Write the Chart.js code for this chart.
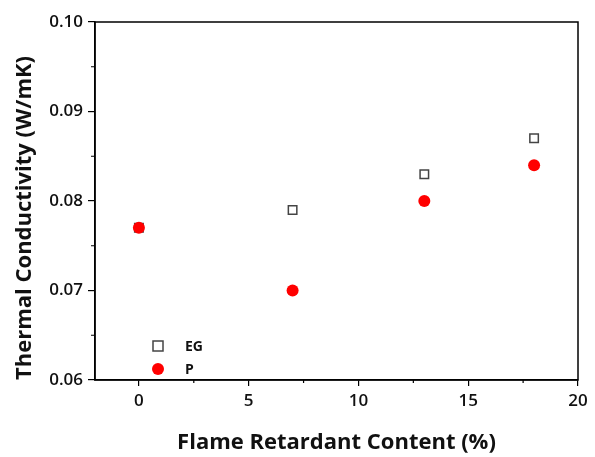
<!DOCTYPE html>
<html>
<head>
<meta charset="utf-8">
<script src="https://cdn.jsdelivr.net/npm/chart.js@4/dist/chart.umd.min.js"></script>
<style>
  html, body { margin: 0; padding: 0; background: #fff; }
  #wrap { width: 595px; height: 457px; }
</style>
</head>
<body>
<div id="wrap"><canvas id="chart" width="595" height="457"></canvas></div>
<script>
// data
const contentPct = [0, 7, 13, 18];
const egValues = [0.077, 0.079, 0.083, 0.087];
const pValues = [0.077, 0.070, 0.080, 0.084];
const seriesNames = ['EG', 'P'];
const xTicks = [0, 5, 10, 15, 20];
const yTicks = [0.06, 0.07, 0.08, 0.09, 0.10];
const xMinor = [2.5, 7.5, 12.5, 17.5];
const yMinor = [0.065, 0.075, 0.085, 0.095];

const FONT = "'Open Sans', 'Noto Sans', sans-serif";

function toPoints(xs, ys) {
    return xs.map((x, i) => ({ x: x, y: ys[i] }));
}

// box around the plot, minor ticks and the inside legend
const framePlugin = {
    id: 'frame',
    afterDraw(chart) {
        const ctx = chart.ctx;
        const a = chart.chartArea;
        const xs = chart.scales.x, ys = chart.scales.y;
        ctx.save();
        ctx.strokeStyle = '#000';
        ctx.lineWidth = 1.5;
        ctx.strokeRect(a.left, a.top, a.right - a.left, a.bottom - a.top);

        // minor ticks
        ctx.lineWidth = 1.2;
        ctx.beginPath();
        xMinor.forEach(v => {
            const px = xs.getPixelForValue(v);
            ctx.moveTo(px, a.bottom);
            ctx.lineTo(px, a.bottom + 3);
        });
        yMinor.forEach(v => {
            const py = ys.getPixelForValue(v);
            ctx.moveTo(a.left, py);
            ctx.lineTo(a.left - 4, py);
        });
        ctx.stroke();

        // legend
        const lx = 158, ly = [346, 369];
        chart.data.datasets.forEach((ds, i) => {
            const y = ly[i];
            if (ds.pointStyle === 'rect') {
                ctx.fillStyle = '#fff';
                ctx.strokeStyle = ds.borderColor;
                ctx.lineWidth = 1.5;
                ctx.fillRect(lx - 5, y - 5, 10, 10);
                ctx.strokeRect(lx - 5, y - 5, 10, 10);
            } else {
                ctx.fillStyle = ds.backgroundColor;
                ctx.beginPath();
                ctx.arc(lx, y, 6, 0, Math.PI * 2);
                ctx.fill();
            }
            ctx.fillStyle = '#111';
            ctx.font = "bold 14px " + FONT;
            ctx.textBaseline = 'middle';
            ctx.textAlign = 'left';
            ctx.fillText(ds.label, 185, y + 1);
        });
        ctx.restore();
    }
};

const ctx = document.getElementById('chart').getContext('2d');
new Chart(ctx, {
    type: 'scatter',
    data: {
        datasets: [
            {
                label: seriesNames[0],
                data: toPoints(contentPct, egValues),
                pointStyle: 'rect',
                pointRadius: 6,
                pointBorderWidth: 1.5,
                borderColor: '#444',
                backgroundColor: '#fff',
                order: 2
            },
            {
                label: seriesNames[1],
                data: toPoints(contentPct, pValues),
                pointStyle: 'circle',
                pointRadius: 6,
                pointBorderWidth: 0,
                borderColor: '#ff0000',
                backgroundColor: '#ff0000',
                order: 1
            }
        ]
    },
    options: {
        responsive: false,
        animation: false,
        layout: { padding: { top: 22, right: 17, left: 0, bottom: 0 } },
        plugins: {
            legend: { display: false },
            tooltip: { enabled: false }
        },
        scales: {
            x: {
                type: 'linear',
                min: -2,
                max: 20,
                afterBuildTicks: (s) => { s.ticks = xTicks.map(v => ({ value: v })); },
                afterFit: (s) => { s.height = 77; },
                grid: { drawOnChartArea: false, drawTicks: true, tickLength: 6, color: '#000', lineWidth: 1.2 },
                border: { display: true, color: '#000', width: 1.5 },
                ticks: {
                    color: '#111',
                    padding: 5,
                    font: { family: FONT, size: 17, weight: '600' },
                    callback: (v) => String(v)
                },
                title: {
                    display: true,
                    text: 'Flame Retardant Content (%)',
                    color: '#111',
                    font: { family: FONT, size: 22, weight: 'bold' },
                    padding: { top: 0, bottom: 1 }
                }
            },
            y: {
                type: 'linear',
                min: 0.06,
                max: 0.10,
                afterBuildTicks: (s) => { s.ticks = yTicks.map(v => ({ value: v })); },
                afterFit: (s) => { s.width = 95; },
                grid: { drawOnChartArea: false, drawTicks: true, tickLength: 7, color: '#000', lineWidth: 1.2 },
                border: { display: true, color: '#000', width: 1.5 },
                ticks: {
                    color: '#111',
                    padding: 5,
                    font: { family: FONT, size: 17, weight: '600' },
                    callback: (v) => v.toFixed(2)
                },
                title: {
                    display: true,
                    align: 'start',
                    text: 'Thermal Conductivity (W/mK)',
                    color: '#111',
                    font: { family: FONT, size: 22, weight: 'bold' },
                    padding: { top: 12, bottom: 0 }
                }
            }
        }
    },
    plugins: [framePlugin]
});
</script>
</body>
</html>
